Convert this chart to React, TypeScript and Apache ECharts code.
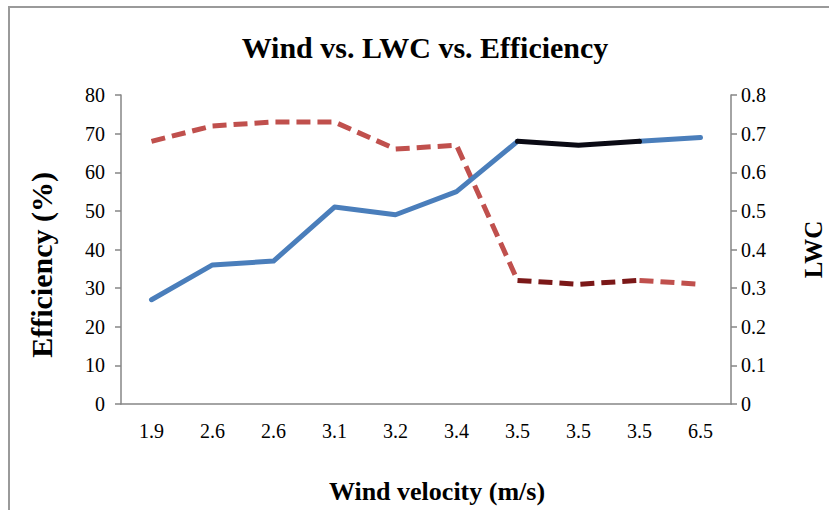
import React, { useEffect, useRef } from "react";
import * as echarts from "echarts";

const categories = ["1.9", "2.6", "2.6", "3.1", "3.2", "3.4", "3.5", "3.5", "3.5", "6.5"];
const efficiency = [27, 36, 37, 51, 49, 55, 68, 67, 68, 69];
const lwc = [0.68, 0.72, 0.73, 0.73, 0.66, 0.67, 0.32, 0.31, 0.32, 0.31];
const leftTicks = [0, 10, 20, 30, 40, 50, 60, 70, 80];
const rightTicks = [0, 0.1, 0.2, 0.3, 0.4, 0.5, 0.6, 0.7, 0.8];
// highlighted segment index range
const hiStart = 6;
const hiEnd = 8;

const seg = (arr: number[], a: number, b: number) =>
  arr.map((v, i) => (i >= a && i <= b ? v : "-"));

export default function App() {
  const ref = useRef<HTMLDivElement>(null);
  useEffect(() => {
    const chart = echarts.init(ref.current!, null, { renderer: "svg" });
    const font = "'Liberation Serif', 'Times New Roman', serif";
    const axisColor = "#868686";
    const lineBase = { type: "line", symbol: "none", smooth: false, silent: true } as any;
    chart.setOption({
      animation: false,
      backgroundColor: "#fff",
      textStyle: { fontFamily: font },
      title: {
        text: "Wind vs. LWC vs. Efficiency",
        left: 420,
        textAlign: "center",
        top: 27,
        textStyle: { fontFamily: font, fontWeight: "bold", fontSize: 30, color: "#000" },
      },
      graphic: [
        {
          type: "rect",
          shape: { x: 9, y: 7, width: 840, height: 520 },
          style: { fill: "none", stroke: "#9a9a9a", lineWidth: 2 },
          silent: true,
        },
        {
          type: "text",
          left: 26,
          top: 172,
          rotation: Math.PI / 2,
          style: { text: "Efficiency (%)", font: `bold 30px ${font}`, fill: "#000" },
        },
      ],
      grid: { left: 121, right: 98, top: 95, bottom: 106, outerBoundsMode: "none", containLabel: false },
      xAxis: {
        type: "category",
        data: categories,
        boundaryGap: true,
        axisLine: { show: true, lineStyle: { color: axisColor, width: 1.5 } },
        axisTick: { show: false },
        axisLabel: { color: "#000", fontSize: 20, fontFamily: font, margin: 17 },
        name: "Wind velocity (m/s)",
        nameLocation: "middle",
        nameGap: 74,
        nameTextStyle: {
          fontFamily: font,
          fontWeight: "bold",
          fontSize: 26,
          color: "#000",
          padding: [0, 0, 0, 22],
        },
      },
      yAxis: [
        {
          type: "value",
          min: leftTicks[0],
          max: leftTicks[leftTicks.length - 1],
          interval: leftTicks[1] - leftTicks[0],
          position: "left",
          axisLine: { show: true, lineStyle: { color: axisColor, width: 1.5 } },
          axisTick: { show: true, length: 6, lineStyle: { color: axisColor, width: 1.5 } },
          splitLine: { show: false },
          axisLabel: { color: "#000", fontSize: 20, fontFamily: font, margin: 16 },
        },
        {
          type: "value",
          min: rightTicks[0],
          max: rightTicks[rightTicks.length - 1],
          interval: 0.1,
          position: "right",
          axisLine: { show: true, lineStyle: { color: axisColor, width: 1.5 } },
          axisTick: { show: true, length: 6, lineStyle: { color: axisColor, width: 1.5 } },
          splitLine: { show: false },
          axisLabel: {
            color: "#000",
            fontSize: 20,
            fontFamily: font,
            margin: 10,
            formatter: (v: number) => String(Math.round(v * 10) / 10),
          },
          name: "LWC",
          nameLocation: "middle",
          nameGap: 70,
          nameRotate: 90,
          nameTextStyle: { fontFamily: font, fontWeight: "bold", fontSize: 25, color: "#000" },
        },
      ],
      series: [
        {
          ...lineBase,
          name: "LWC a",
          yAxisIndex: 1,
          data: seg(lwc, 0, hiStart),
          lineStyle: { color: "#C0504D", width: 5, type: [14, 7] },
          z: 2,
        },
        {
          ...lineBase,
          name: "LWC b",
          yAxisIndex: 1,
          data: seg(lwc, hiStart, hiEnd),
          lineStyle: { color: "#7B1818", width: 5, type: [14, 7] },
          z: 2,
        },
        {
          ...lineBase,
          name: "LWC c",
          yAxisIndex: 1,
          data: seg(lwc, hiEnd, lwc.length - 1),
          lineStyle: { color: "#C0504D", width: 5, type: [14, 7] },
          z: 2,
        },
        {
          ...lineBase,
          name: "Eff a",
          yAxisIndex: 0,
          data: seg(efficiency, 0, hiStart),
          lineStyle: { color: "#4A7EBB", width: 5, cap: "round", join: "round" },
          z: 3,
        },
        {
          ...lineBase,
          name: "Eff b",
          yAxisIndex: 0,
          data: seg(efficiency, hiStart, hiEnd),
          lineStyle: { color: "#0A0A14", width: 5, cap: "round", join: "round" },
          z: 4,
        },
        {
          ...lineBase,
          name: "Eff c",
          yAxisIndex: 0,
          data: seg(efficiency, hiEnd, efficiency.length - 1),
          lineStyle: { color: "#4A7EBB", width: 5, cap: "round", join: "round" },
          z: 3,
        },
      ],
    });
    return () => chart.dispose();
  }, []);
  return (
    <div style={{ position: "fixed", left: 0, top: 0, width: 829, height: 510, background: "#fff" }}>
      <div ref={ref} style={{ width: 829, height: 510 }} />
    </div>
  );
}
